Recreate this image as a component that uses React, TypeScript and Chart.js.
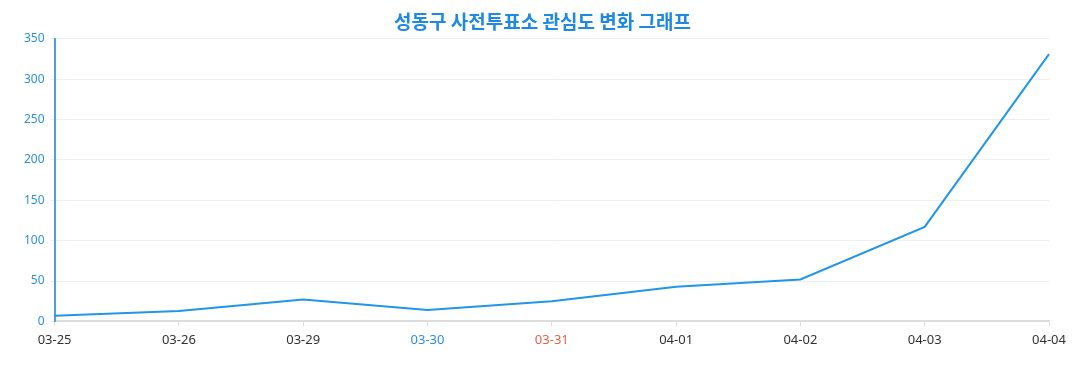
import React, { useEffect, useRef } from "react";
import { Chart, registerables } from "chart.js";

Chart.register(...registerables);

const categories = ["03-25", "03-26", "03-29", "03-30", "03-31", "04-01", "04-02", "04-03", "04-04"];
const interestValues = [7, 13, 27, 14, 25, 43, 52, 117, 331];
const labelColors = ["#333333", "#333333", "#333333", "#2b8fd6", "#e0624a", "#333333", "#333333", "#333333", "#333333"];
const titleText = "성동구 사전투표소 관심도 변화 그래프";

const titleShift = {
  id: "titleShift",
  afterLayout(chart: any) {
    const tb = chart.titleBlock;
    if (tb) {
      tb.left = 28;
      tb.right = chart.width - 20;
      tb.width = tb.right - tb.left;
    }
  },
};

export default function App() {
  const ref = useRef<HTMLCanvasElement | null>(null);
  useEffect(() => {
    if (!ref.current) return;
    const chart = new Chart(ref.current, {
      type: "line",
      data: {
        labels: categories,
        datasets: [
          {
            label: "관심도",
            data: interestValues,
            borderColor: "#2196e8",
            backgroundColor: "#2196e8",
            borderWidth: 2,
            pointRadius: 0,
            tension: 0,
            fill: false,
          },
        ],
      },
      plugins: [titleShift],
      options: {
        animation: false,
        responsive: true,
        maintainAspectRatio: false,
        layout: { padding: { left: 11, right: 20, top: 0, bottom: 28 } },
        plugins: {
          legend: { display: false },
          tooltip: { enabled: false },
          title: {
            display: true,
            text: titleText,
            color: "#1e88e5",
            font: { family: "'Noto Sans CJK KR', 'Noto Sans', sans-serif", size: 19, weight: "bold" },
            padding: { top: 2, bottom: 6 },
          },
        },
        scales: {
          x: {
            afterFit: (scale: any) => {
              scale.paddingRight = 10;
              scale.paddingLeft = 0;
            },
            grid: {
              display: true,
              drawOnChartArea: false,
              drawTicks: true,
              tickLength: 5,
              color: "#dddddd",
            },
            border: { display: true, color: "#dddddd", width: 2 },
            ticks: {
              color: (ctx: any) => labelColors[ctx.index] || "#333333",
              font: { family: "'Noto Sans', 'Open Sans', sans-serif", size: 13 },
              padding: 6,
              maxRotation: 0,
            },
          },
          y: {
            min: 0,
            max: 350,
            ticks: {
              stepSize: 50,
              color: "#2b8fd6",
              font: { family: "'Noto Sans', 'Open Sans', sans-serif", size: 12 },
              padding: 5,
            },
            grid: { color: "#eeeeee", tickLength: 5 },
            border: { display: true, color: "#4aa3df", width: 2 },
          },
        },
      },
    });
    return () => chart.destroy();
  }, []);
  return (
    <div style={{ width: 1061, height: 374 }}>
      <canvas ref={ref} />
    </div>
  );
}
